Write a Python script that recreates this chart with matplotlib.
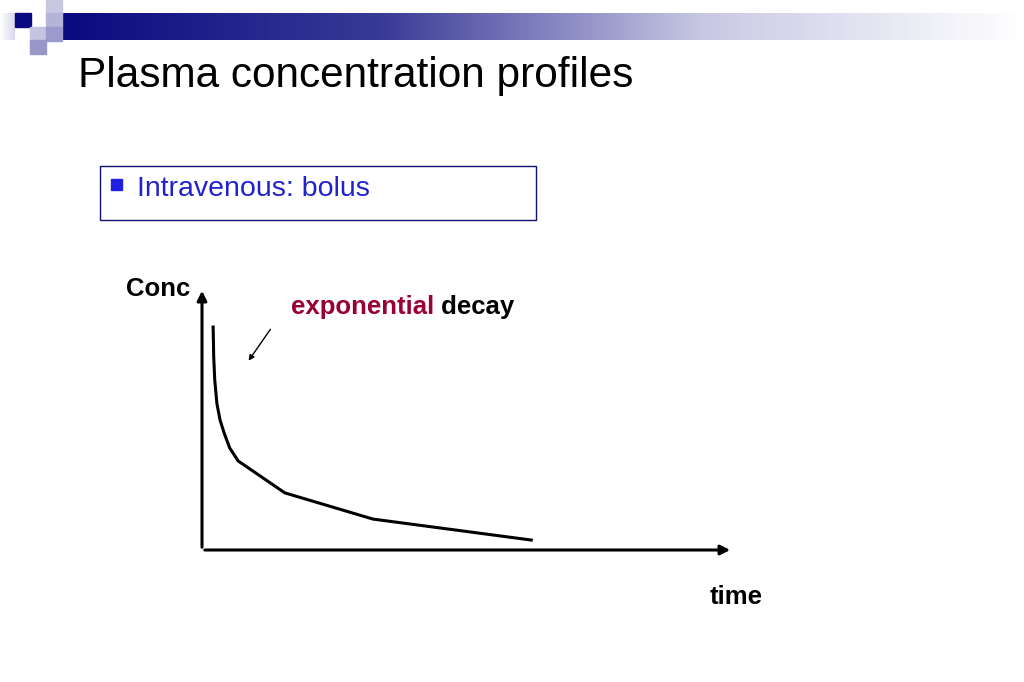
import numpy as np
import matplotlib.pyplot as plt
from matplotlib.patches import Rectangle
from matplotlib.colors import LinearSegmentedColormap

plt.rcParams['font.family'] = ['Liberation Sans', 'DejaVu Sans']

# curve (arbitrary units)
time = [0.21, 0.22, 0.24, 0.28, 0.34, 0.42, 0.52, 0.68, 1.56, 3.22, 6.20]
conc = [8.51, 7.40, 6.49, 5.60, 4.96, 4.45, 3.90, 3.40, 2.18, 1.18, 0.38]

W, H = 1024, 682
fig = plt.figure(figsize=(W / 100, H / 100), dpi=100)

# slide background in pixel coords
bg = fig.add_axes([0, 0, 1, 1])
bg.set_xlim(0, W)
bg.set_ylim(H, 0)
bg.axis('off')

# header band gradient
navy = LinearSegmentedColormap.from_list('band', ['#0a0a80', '#3a3a98', '#c8c8e4', '#ffffff'])
grad = np.linspace(0, 1, 256).reshape(1, -1)
bg.imshow(grad, cmap=navy, extent=[62, W, 40, 13], aspect='auto', zorder=1)
lgrad = LinearSegmentedColormap.from_list('lb', ['#ffffff', '#d8d8ec'])
bg.imshow(grad, cmap=lgrad, extent=[0, 15, 40, 13], aspect='auto', zorder=1)
squares = [
    (15, 13, '#0a0a80'), (46, 0, '#c8c8e2'), (46, 13, '#b4b4d8'),
    (30, 27, '#c4c4e0'), (46, 27, '#9a9acc'), (30, 40, '#9898c8'),
]
for x, y, c in squares:
    bg.add_patch(Rectangle((x, y), 15.5, 13.5, color=c, zorder=2))

bg.text(78, 76, 'Plasma concentration profiles', fontsize=30.5, va='center', ha='left')

bg.add_patch(Rectangle((100, 166), 436, 54, fill=False, edgecolor='#101070', lw=1))
bg.add_patch(Rectangle((111, 179), 11, 11, color='#2020e0'))
bg.text(137, 189, 'Intravenous: bolus', fontsize=20.5, color='#2222cc', va='center')

bg.text(126, 289, 'Conc', fontsize=18.5, fontweight='bold', va='center')
bg.text(710, 597, 'time', fontsize=18.5, fontweight='bold', va='center')
t = bg.text(291, 307, 'exponential', fontsize=18.5, fontweight='bold', color='#990033', va='center')
bg.annotate(' decay', xycoords=t, xy=(1, 0), va='bottom', fontsize=18.5, fontweight='bold')
bg.annotate('', xy=(247, 363), xytext=(272, 327),
            arrowprops=dict(arrowstyle='-|>', color='black', lw=1, mutation_scale=8))

# chart axes
x0, x1, y0, y1 = 202, 733, 550, 288
ax = fig.add_axes([x0 / W, 1 - y0 / H, (x1 - x0) / W, (y0 - y1) / H])
ax.set_xlim(0, 10)
ax.set_ylim(0, 10)
ax.axis('off')
ax.patch.set_alpha(0)
ax.plot(time, conc, color='black', lw=2.2, solid_joinstyle='round')
ax.annotate('', xy=(10, 0), xytext=(0, 0), xycoords='data',
            arrowprops=dict(arrowstyle='-|>', color='black', lw=2.2, mutation_scale=14), annotation_clip=False)
ax.annotate('', xy=(0, 10), xytext=(0, 0), xycoords='data',
            arrowprops=dict(arrowstyle='-|>', color='black', lw=2.2, mutation_scale=14), annotation_clip=False)

fig.savefig('out.png', dpi=100)
